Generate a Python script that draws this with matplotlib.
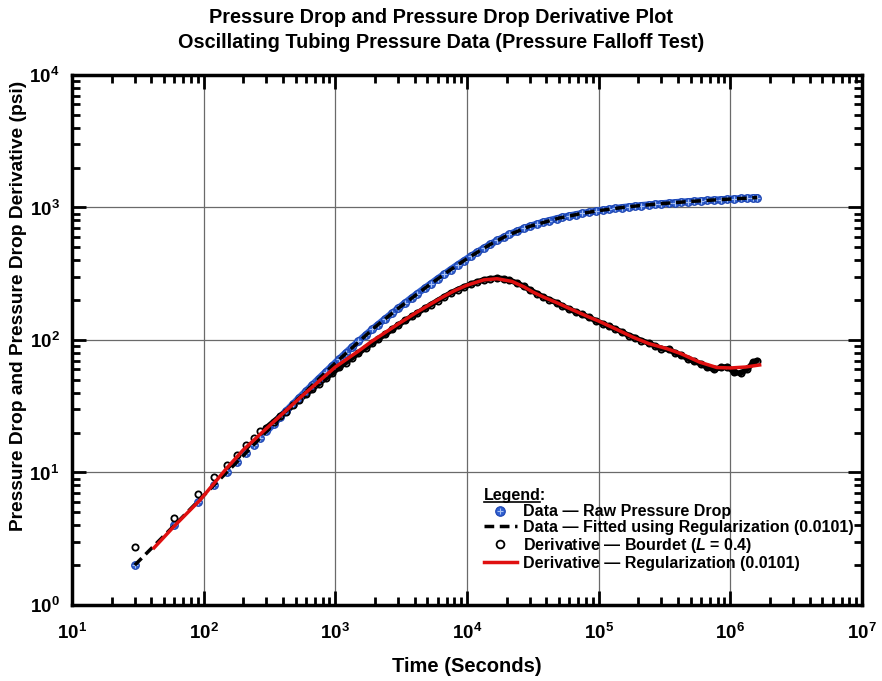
import matplotlib
matplotlib.use('Agg')
import matplotlib.pyplot as plt
import matplotlib.ticker as mticker
from matplotlib.legend_handler import HandlerTuple
from matplotlib.lines import Line2D
import numpy as np

plt.rcParams['font.family'] = ['Liberation Sans', 'DejaVu Sans']
plt.rcParams['font.weight'] = 'bold'
plt.rcParams['mathtext.fontset'] = 'custom'
plt.rcParams['mathtext.rm'] = 'Liberation Sans:bold'
plt.rcParams['mathtext.bf'] = 'Liberation Sans:bold'
plt.rcParams['mathtext.it'] = 'Liberation Sans:italic:bold'

# raw data (time in s, pressure drop in psi) and Bourdet derivative
t_data = [30, 60, 90, 120, 150, 180, 210, 240, 270,
          300, 340, 380, 420, 480, 530, 600, 670, 750, 850, 950,
          1070, 1200, 1340, 1500, 1700, 1900, 2100, 2400, 2700, 3000,
          3400, 3800, 4200, 4800, 5300, 6000, 6700, 7500, 8500, 9500,
          10700, 12000, 13400, 15000, 17000, 19000, 21000, 24000, 27000, 30000,
          34000, 38000, 42000, 48000, 53000, 60000, 67000, 75000, 85000, 95000,
          107000, 120000, 134000, 150000, 170000, 190000, 210000, 240000, 270000, 300000,
          340000, 380000, 420000, 480000, 530000, 600000, 670000, 750000, 850000, 950000,
          1070000, 1200000, 1340000, 1500000, 1600000]
dp_data = [2.0, 4.0, 6.0, 8.0, 10.0, 12.0, 14.1, 16.1, 18.2,
           20.4, 23.3, 26.1, 28.9, 33.0, 36.5, 41.2, 45.9, 51.2, 57.7, 64.1,
           71.8, 79.9, 88.4, 97.8, 109, 120, 130, 145, 159, 173,
           191, 208, 224, 247, 265, 290, 313, 339, 369, 397,
           429, 461, 493, 526, 564, 597, 626, 663, 695, 721,
           751, 776, 797, 824, 843, 865, 884, 903, 922, 939,
           956, 971, 985, 999, 1013, 1025, 1035, 1048, 1059, 1069,
           1080, 1090, 1098, 1108, 1115, 1124, 1132, 1139, 1147, 1154,
           1162, 1169, 1176, 1183, 1188]
der_bourdet = [2.75, 4.5, 6.9, 9.2, 11.4, 13.6, 16.0, 18.2, 20.5,
               21.8, 24.2, 26.6, 28.8, 32.2, 35.0, 38.9, 42.6, 46.8, 51.6, 56.3,
               62.0, 67.5, 73.4, 79.6, 87.0, 94.5, 101, 110.5, 120, 129.5,
               140.5, 150.5, 160, 173.5, 184.5, 198.5, 212, 226, 240, 252,
               264, 275, 284, 290, 293, 290, 283, 269, 254, 239,
               224, 211, 202, 191, 181, 171, 163, 156, 148, 140,
               133, 127, 121, 115, 108, 104, 99, 95, 90, 86,
               85, 80, 77, 72, 69, 66, 62, 60, 62, 63,
               57, 56, 60, 68, 70]

# fitted pressure drop (regularization)
t_fit = [30, 60, 100, 200, 300, 500, 1000, 2000, 3000, 5000, 7500, 10000, 15000,
         20000, 30000, 50000, 75000, 100000, 150000, 200000, 300000, 500000,
         750000, 1000000, 1300000, 1600000]
dp_fit = [2.0, 4.0, 6.7, 13.4, 20.4, 34.4, 67.0, 125, 173, 254, 339, 411, 526,
          612, 721, 831, 903, 946, 999, 1030, 1069, 1111, 1139, 1158, 1174, 1188]

# derivative from regularization
t_reg = [42, 60, 94, 150, 200, 300, 537, 1000, 1500, 1900, 3000, 4200, 6220, 8000,
         10000, 13400, 16900, 21900, 27000, 31700, 38000, 48200, 60000, 85700,
         100000, 145000, 182000, 240000, 330000, 420000, 586000, 790000,
         1000000, 1300000, 1670000]
der_reg = [2.7, 3.95, 6.2, 10.8, 14.8, 21.5, 36.5, 62.5, 82.5, 98, 132, 163, 205, 235,
           259, 284, 290, 277, 252, 230, 211, 191, 173, 148,
           139, 117, 105, 94, 86, 79, 68, 62,
           61.5, 62.5, 64.8]

x_decades = [1, 2, 3, 4, 5, 6, 7]
y_decades = [0, 1, 2, 3, 4]

n_sparse = 9  # first samples are far apart on the log axis

fig = plt.figure(figsize=(8.82, 6.81), dpi=100)
ax = fig.add_axes([0.0816, 0.1116, 0.8957, 0.7783])

ax.grid(which='major', color='#6a6a6a', linewidth=0.9, zorder=0)

# dense samples merge into a band
ax.plot(t_data[n_sparse:], dp_data[n_sparse:], '-', color='#2f5fd0', lw=5, zorder=2,
        solid_capstyle='round')
ax.plot(t_data[n_sparse:], der_bourdet[n_sparse:], '-', color='black', lw=4, zorder=2,
        solid_capstyle='round')

blue_o, = ax.plot(t_data, dp_data, 'o', ms=5.5, mfc='#2f5fd0', mec='#1d44b0', mew=0.8, zorder=3)
blue_p, = ax.plot(t_data, dp_data, '+', ms=4, color='#a9c1f2', mew=0.8, zorder=3)
bourdet, = ax.plot(t_data, der_bourdet, 'o', ms=4.5, mfc='none', mec='black', mew=1.3, zorder=3)
fit_line, = ax.plot(t_fit, dp_fit, color='black', lw=2.5, dashes=(2.8, 1.6), zorder=4)
reg_line, = ax.plot(t_reg, der_reg, color='#e01010', lw=2.5, zorder=4)

ax.set_xscale('log')
ax.set_yscale('log')
ax.set_xlim(10, 1e7)
ax.set_ylim(1, 1e4)

xmaj = [10.0 ** d for d in x_decades]
ymaj = [10.0 ** d for d in y_decades]
xmin = [m * 10.0 ** d for d in x_decades[:-1] for m in range(2, 10)]
ymin = [m * 10.0 ** d for d in y_decades[:-1] for m in range(2, 10)]
ax.xaxis.set_major_locator(mticker.FixedLocator(xmaj))
ax.yaxis.set_major_locator(mticker.FixedLocator(ymaj))
ax.xaxis.set_minor_locator(mticker.FixedLocator(xmin))
ax.yaxis.set_minor_locator(mticker.FixedLocator(ymin))
ax.set_xticklabels([r'$\mathbf{10^{%d}}$' % d for d in x_decades])
ax.set_yticklabels([r'$\mathbf{10^{%d}}$' % d for d in y_decades])
ax.xaxis.set_minor_formatter(mticker.NullFormatter())
ax.yaxis.set_minor_formatter(mticker.NullFormatter())

ax.tick_params(which='both', direction='in', top=True, right=True, width=2, labelsize=13.5)
ax.tick_params(which='major', length=10, pad=9)
ax.tick_params(axis='x', which='major', pad=13)
ax.tick_params(which='minor', length=6)
for s in ax.spines.values():
    s.set_linewidth(2.5)

ax.set_xlabel('Time (Seconds)', fontsize=14.5, fontweight='bold', labelpad=10)
ax.set_ylabel('Pressure Drop and Pressure Drop Derivative (psi)', fontsize=13.8,
              fontweight='bold')
ax.yaxis.set_label_coords(-0.057, 0.564)
fig.suptitle('Pressure Drop and Pressure Drop Derivative Plot\n'
             'Oscillating Tubing Pressure Data (Pressure Falloff Test)',
             fontsize=14.3, fontweight='bold', x=0.5, y=0.988, linespacing=1.4)

handles = [(blue_o, blue_p), fit_line, bourdet, reg_line]
labels = ['Data \u2014 Raw Pressure Drop',
          'Data \u2014 Fitted using Regularization (0.0101)',
          'Derivative \u2014 Bourdet ($L$ = 0.4)',
          'Derivative \u2014 Regularization (0.0101)']
leg = ax.legend(handles, labels, handler_map={tuple: HandlerTuple(ndivide=1, pad=0)},
                loc='lower right', bbox_to_anchor=(0.99, 0.065), frameon=False,
                prop={'size': 11.5, 'weight': 'bold'}, title='Legend:',
                title_fontproperties={'size': 11.5, 'weight': 'bold'},
                alignment='left', handlelength=2.1, handletextpad=0.4,
                labelspacing=0.05, borderpad=0, borderaxespad=0, numpoints=1,
                markerscale=1.25)

# underline the word "Legend"
fig.canvas.draw()
r = fig.canvas.get_renderer()
tt = leg.get_title()
bb = tt.get_window_extent(r)
tmp = fig.text(0.5, 0.5, 'Legend', fontsize=11.5, fontweight='bold')
w = tmp.get_window_extent(r).width
tmp.remove()
y0 = bb.y0 + 1
fig.add_artist(Line2D([bb.x0 / fig.bbox.width, (bb.x0 + w) / fig.bbox.width],
                      [y0 / fig.bbox.height, y0 / fig.bbox.height],
                      color='black', lw=1.2, transform=fig.transFigure))

fig.savefig('out.png', dpi=100)
